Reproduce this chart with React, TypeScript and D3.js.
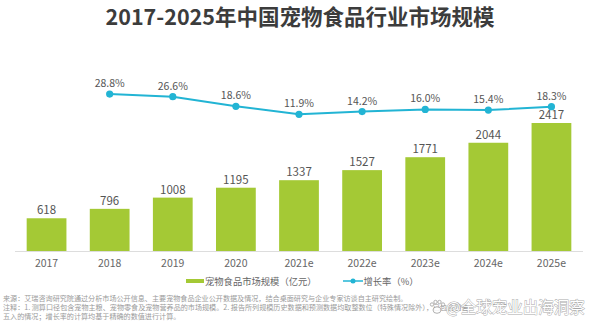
import React from "react";
import * as d3 from "d3";

const years = ["2017", "2018", "2019", "2020", "2021e", "2022e", "2023e", "2024e", "2025e"];
const marketSize = [618, 796, 1008, 1195, 1337, 1527, 1771, 2044, 2417];
const growthYears = ["2018", "2019", "2020", "2021e", "2022e", "2023e", "2024e", "2025e"];
const growthRate = [28.8, 26.6, 18.6, 11.9, 14.2, 16.0, 15.4, 18.3];

const title = "2017-2025年中国宠物食品行业市场规模";
const legendBar = "宠物食品市场规模（亿元）";
const legendLine = "增长率（%）";
const notes = [
  "来源：艾瑞咨询研究院通过分析市场公开信息、主要宠物食品企业公开数据及情况，结合桌面研究与企业专家访谈自主研究绘制。",
  "注释：1. 测算口径包含宠物主粮、宠物零食及宠物营养品的市场规模。2. 报告所列规模历史数据和预测数据均取整数位（特殊情况除外），已包含四舍",
  "五入的情况；增长率的计算均基于精确的数值进行计算。",
];
const watermark = "@全球宠业出海洞察";

const BAR = "#a4c935";
const LINE = "#22b4d4";
const FONT = "'Noto Sans CJK SC', 'Noto Sans', sans-serif";

export default function App() {
  const x = d3.scaleBand().domain(years).range([15, 583]).paddingInner(0.37).paddingOuter(0.185);
  const y = d3.scaleLinear().domain([0, 2500]).range([251, 118.6]);
  const yr = d3.scaleLinear().domain([0, 30]).range([128.6, 92.6]);
  const cx = (c: string) => (x(c) as number) + x.bandwidth() / 2;
  const pts = growthYears.map((c, i) => [cx(c), yr(growthRate[i])] as [number, number]);
  const line = d3.line()(pts) as string;

  return (
    <svg width={600} height={329} style={{ position: "absolute", left: 0, top: 0, background: "#fff" }} fontFamily={FONT}>
      <rect width={600} height={329} fill="#fff" />
      <text x={300} y={25} textAnchor="middle" fontSize={21.5} fontWeight="bold" fill="#3c3c3c">{title}</text>

      {years.map((c, i) => (
        <g key={c}>
          <rect x={x(c)} y={y(marketSize[i])} width={x.bandwidth()} height={251 - y(marketSize[i])} fill={BAR} />
          <text x={cx(c)} y={y(marketSize[i]) - 4} textAnchor="middle" fontSize={11.5} fill="#555">{marketSize[i]}</text>
          <text x={cx(c)} y={267} textAnchor="middle" fontSize={10.5} fill="#666">{c}</text>
        </g>
      ))}
      <line x1={15} x2={583} y1={251.5} y2={251.5} stroke="#ddd" strokeWidth={1} />

      <path d={line} fill="none" stroke={LINE} strokeWidth={2} />
      {pts.map((p, i) => (
        <g key={growthYears[i]}>
          <circle cx={p[0]} cy={p[1]} r={3.6} fill={LINE} />
          <text x={p[0]} y={p[1] - 7} textAnchor="middle" fontSize={10.5} fill="#555">{growthRate[i].toFixed(1) + "%"}</text>
        </g>
      ))}

      <rect x={186} y={279} width={18} height={4} fill={BAR} />
      <text x={205} y={284.5} fontSize={9.3} fill="#666">{legendBar}</text>
      <line x1={343} x2={363} y1={281} y2={281} stroke={LINE} strokeWidth={1.5} />
      <circle cx={353} cy={281} r={2.5} fill={LINE} />
      <text x={363.5} y={284.5} fontSize={9.3} fill="#666">{legendLine}</text>

      {notes.map((n, i) => (
        <text key={i} x={3} y={300.5 + i * 9.2} fontSize={7.1} fill="#9a9a9a">{n}</text>
      ))}

      <g opacity={0.85}>
        <g fill="#fff" stroke="#999" strokeWidth={0.9}>
          <ellipse cx={437} cy={310} rx={4} ry={3.3} />
          <circle cx={432} cy={304.5} r={1.7} />
          <circle cx={435.5} cy={302} r={1.7} />
          <circle cx={439.5} cy={302} r={1.7} />
          <circle cx={443} cy={304.5} r={1.7} />
        </g>
        <text x={446} y={312.5} fontSize={15.5} fill="#fff" stroke="#999" strokeWidth={0.9} paintOrder="stroke">{watermark}</text>
      </g>
    </svg>
  );
}
